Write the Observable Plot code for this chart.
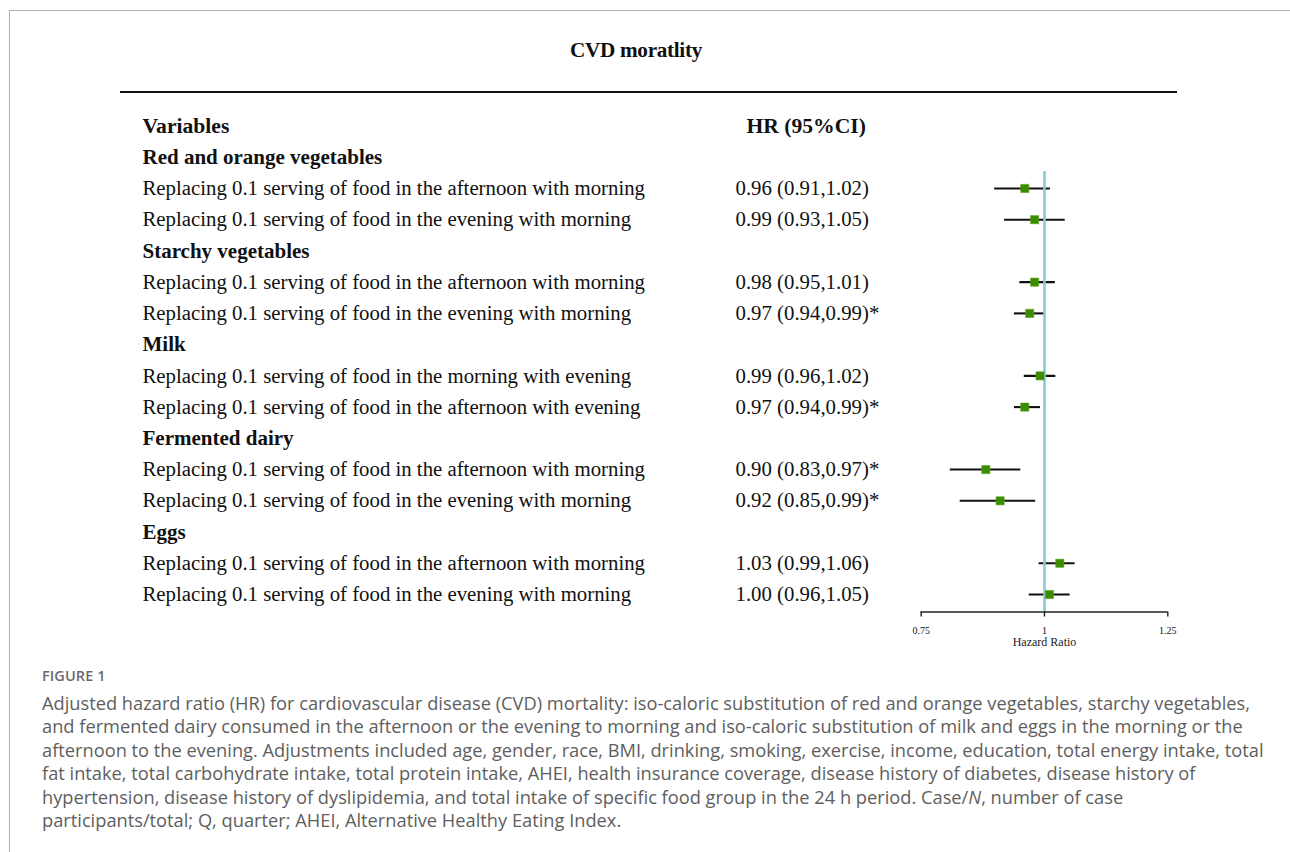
<!DOCTYPE html>
<html><head><meta charset="utf-8">
<script src="https://cdn.jsdelivr.net/npm/d3@7"></script>
<script src="https://cdn.jsdelivr.net/npm/@observablehq/plot@0.6"></script>
<style>
html,body{margin:0;padding:0;background:#fff}
body{width:1290px;height:852px;overflow:hidden;position:relative}
#border{position:absolute;left:9px;top:10px;width:1300px;height:900px;border-top:1.2px solid #b2b2b2;border-left:1.2px solid #b2b2b2}
#title{position:absolute;top:40px;left:0;width:1272px;text-align:center;font-weight:bold;font-size:21.2px;line-height:1;font-family:"Liberation Serif",serif;color:#111;letter-spacing:-0.3px}
#rule{position:absolute;left:120px;top:90.5px;width:1057px;height:2.4px;background:#111}
#chart{position:absolute;left:0;top:0}
#fig{position:absolute;left:42px;top:669px;font-family:"Open Sans",sans-serif;font-size:14.5px;font-weight:600;line-height:1;color:#6a6a6a;letter-spacing:0.1px}
#cap{position:absolute;left:42px;top:691px;font-family:"Open Sans",sans-serif;font-size:17px;color:#5e5e5e;line-height:23.4px;white-space:nowrap}
</style></head>
<body>
<div id="border"></div>
<div id="chart"></div>
<div id="title"></div>
<div id="rule"></div>
<div id="fig"></div>
<div id="cap"></div>
<script>
const title = "CVD moratlity";
const headers = ["Variables", "HR (95%CI)"];
const groups = ["Red and orange vegetables", "Starchy vegetables", "Milk", "Fermented dairy", "Eggs"];
const rowLabels = [
  "Replacing 0.1 serving of food in the afternoon with morning",
  "Replacing 0.1 serving of food in the evening with morning",
  "Replacing 0.1 serving of food in the afternoon with morning",
  "Replacing 0.1 serving of food in the evening with morning",
  "Replacing 0.1 serving of food in the morning with evening",
  "Replacing 0.1 serving of food in the afternoon with evening",
  "Replacing 0.1 serving of food in the afternoon with morning",
  "Replacing 0.1 serving of food in the evening with morning",
  "Replacing 0.1 serving of food in the afternoon with morning",
  "Replacing 0.1 serving of food in the evening with morning"
];
const rowGroup = [0, 0, 1, 1, 2, 2, 3, 3, 4, 4];
const hrLabels = [
  "0.96 (0.91,1.02)", "0.99 (0.93,1.05)",
  "0.98 (0.95,1.01)", "0.97 (0.94,0.99)*",
  "0.99 (0.96,1.02)", "0.97 (0.94,0.99)*",
  "0.90 (0.83,0.97)*", "0.92 (0.85,0.99)*",
  "1.03 (0.99,1.06)", "1.00 (0.96,1.05)"
];
const estimates = [0.960, 0.980, 0.980, 0.970, 0.991, 0.960, 0.881, 0.910, 1.031, 1.010];
const lowers    = [0.899, 0.919, 0.950, 0.939, 0.959, 0.939, 0.809, 0.829, 0.989, 0.969];
const uppers    = [1.012, 1.042, 1.022, 1.002, 1.023, 0.992, 0.952, 0.982, 1.062, 1.052];
const axisTicks = [0.75, 1, 1.25];
const axisTickLabels = ["0.75", "1", "1.25"];
const axisLabel = "Hazard Ratio";
const refValue = 1;
const figureLabel = "FIGURE 1";
const captionLines = [
  "Adjusted hazard ratio (HR) for cardiovascular disease (CVD) mortality: iso-caloric substitution of red and orange vegetables, starchy vegetables,",
  "and fermented dairy consumed in the afternoon or the evening to morning and iso-caloric substitution of milk and eggs in the morning or the",
  "afternoon to the evening. Adjustments included age, gender, race, BMI, drinking, smoking, exercise, income, education, total energy intake, total",
  "fat intake, total carbohydrate intake, total protein intake, AHEI, health insurance coverage, disease history of diabetes, disease history of",
  "hypertension, disease history of dyslipidemia, and total intake of specific food group in the 24 h period. Case/<i>N</i>, number of case",
  "participants/total; Q, quarter; AHEI, Alternative Healthy Eating Index."
];

// build table layout rows
const groupRows = [];
const itemRows = [];
let r = 1;
groups.forEach((g, gi) => {
  groupRows.push({row: r++, label: g});
  rowLabels.forEach((l, i) => {
    if (rowGroup[i] === gi) itemRows.push({row: r++, label: l, hr: hrLabels[i], est: estimates[i], lo: lowers[i], hi: uppers[i]});
  });
});
const lastRow = r - 1;

const serif = "'Liberation Serif', 'Times New Roman', serif";
const fs = 20.8;
const plotLeft = 920.7;
const col1 = 142 - plotLeft, col2 = 735 - plotLeft, col2Head = 746 - plotLeft;
const axisRow = lastRow + 0.56;
const refTopRow = 1.46;

const chart = Plot.plot({
  width: 1290, height: 660,
  marginLeft: plotLeft, marginRight: 122.7, marginTop: 0, marginBottom: 48.5,
  style: {fontFamily: serif, color: "#111", background: "transparent", overflow: "visible"},
  x: {domain: [0.75, 1.25]},
  y: {domain: [0, lastRow], range: [125.5, 594], axis: null},
  marks: [
    Plot.text([{row: 0, label: headers[0]}], {y: "row", text: "label", frameAnchor: "left", dx: col1, textAnchor: "start", fontWeight: "bold", fontSize: 21.6, fill: "#111"}),
    Plot.text([{row: 0, label: headers[1]}], {y: "row", text: "label", frameAnchor: "left", dx: col2Head, textAnchor: "start", fontWeight: "bold", fontSize: 21.6, fill: "#111"}),
    Plot.text(groupRows, {y: "row", text: "label", frameAnchor: "left", dx: col1, textAnchor: "start", fontWeight: "bold", fontSize: 21, fill: "#111"}),
    Plot.text(itemRows, {y: "row", text: "label", frameAnchor: "left", dx: col1, textAnchor: "start", fontSize: fs, fill: "#111"}),
    Plot.text(itemRows, {y: "row", text: "hr", frameAnchor: "left", dx: col2, textAnchor: "start", fontSize: fs, fill: "#111"}),
    Plot.ruleY(itemRows, {y: "row", x1: "lo", x2: "hi", stroke: "#111", strokeWidth: 2.1}),
    Plot.ruleX([refValue], {x: d => d, y1: refTopRow, y2: axisRow, stroke: "#86ccd6", strokeWidth: 2.6}),
    Plot.dot(itemRows, {x: "est", y: "row", symbol: "square", r: 4.6, fill: "#3c8c00", stroke: "#5aa020", strokeWidth: 0.6}),
    Plot.ruleY([axisRow], {stroke: "#222", strokeWidth: 1.3}),
    Plot.axisX({ticks: axisTicks, tickSize: 5, tickPadding: 9.5, strokeWidth: 1.3, fontSize: 10, fontFamily: serif,
      tickFormat: d => axisTickLabels[axisTicks.indexOf(d)], label: null}),
    Plot.text([{x: refValue, label: axisLabel}], {x: "x", text: "label", frameAnchor: "bottom", lineAnchor: "bottom", dy: 33.5, fontSize: 12, fill: "#222"})
  ]
});
document.getElementById("chart").appendChild(chart);
document.getElementById("title").textContent = title;
document.getElementById("fig").textContent = figureLabel;
const cap = document.getElementById("cap");
cap.innerHTML = captionLines.map(l => `<div class="cl">${l}</div>`).join("");
// fit caption to the original line width
const first = cap.querySelector(".cl");
const span = document.createElement("span");
span.innerHTML = captionLines[0];
first.innerHTML = ""; first.appendChild(span);
const w = span.getBoundingClientRect().width;
const target = 1208;
cap.style.fontSize = (17 * target / w) + "px";
</script>
</body></html>
